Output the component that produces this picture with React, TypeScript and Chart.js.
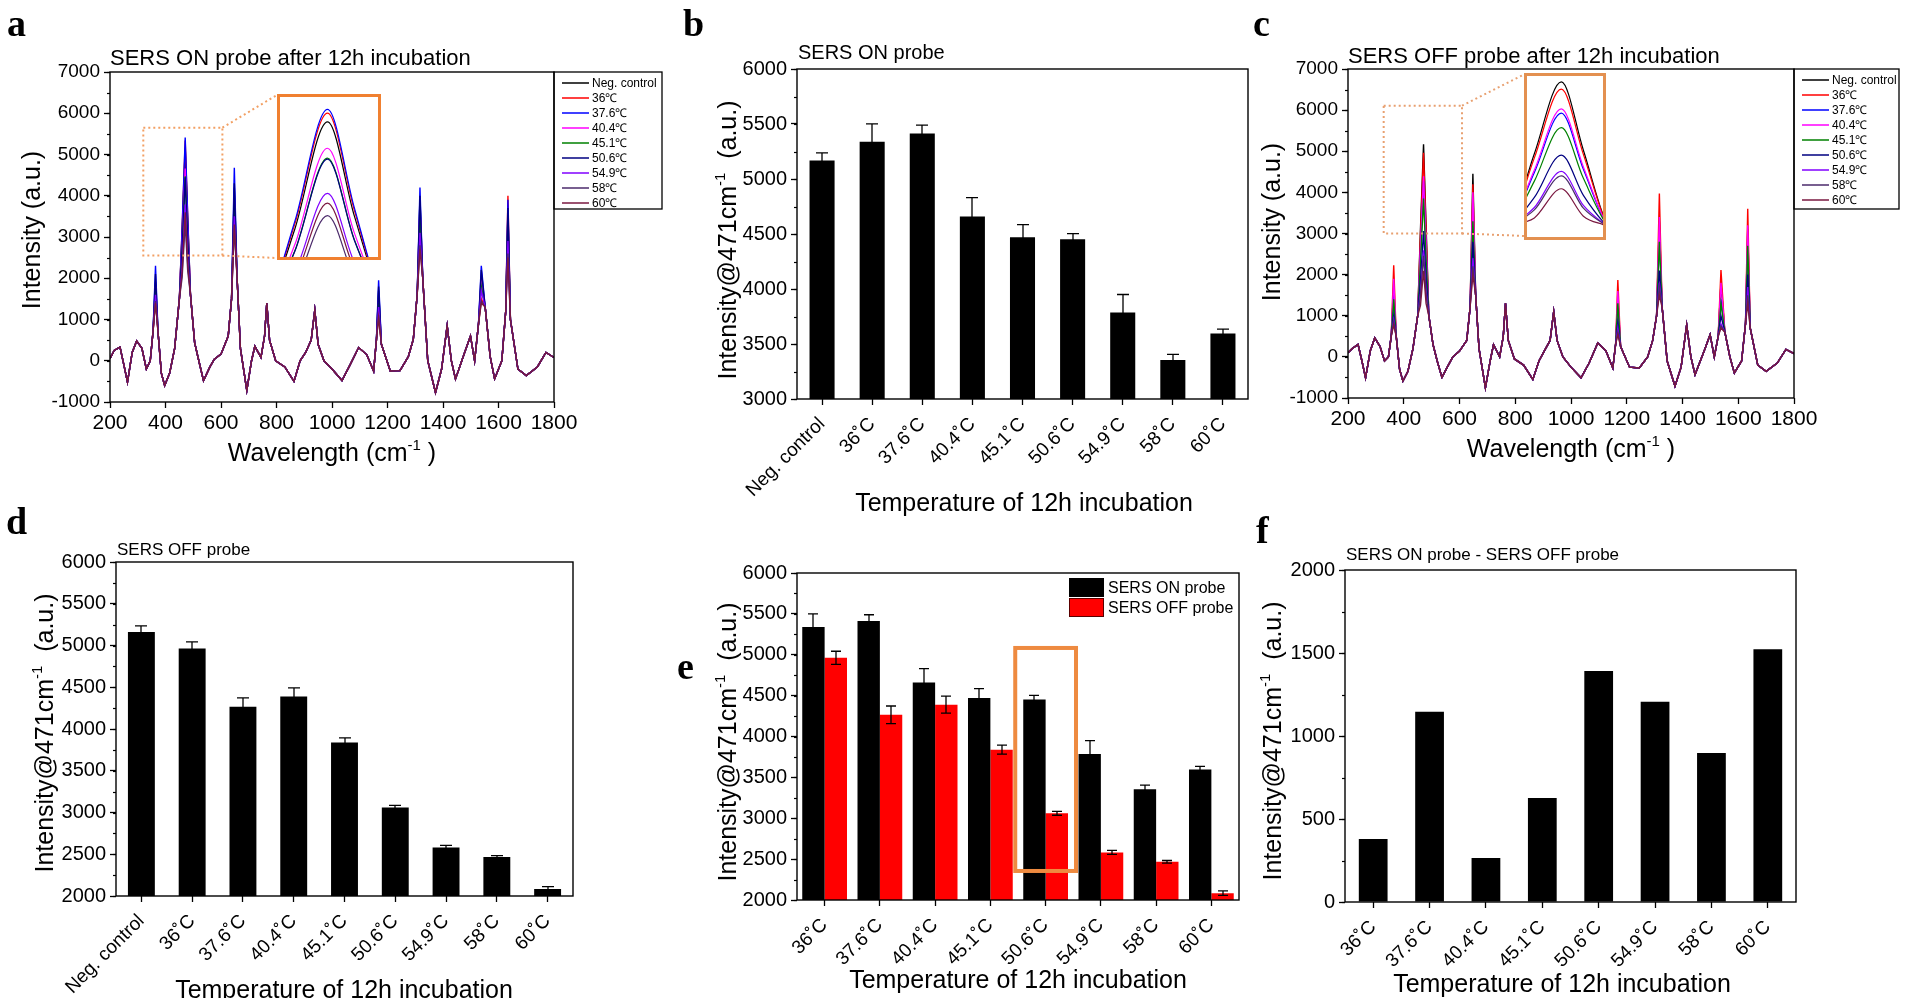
import React, { useEffect, useRef } from "react";
import { Chart, registerables } from "chart.js";

Chart.register(...registerables);

const SANS = "'Liberation Sans', Arial, Helvetica, sans-serif";
const SERIF = "'Liberation Serif', 'Times New Roman', Times, serif";

// ---------------- data ----------------
const seriesLabels = ["Neg. control", "36℃", "37.6℃", "40.4℃", "45.1℃", "50.6℃", "54.9℃", "58℃", "60℃"];
const seriesColors = ["#000000", "#ff0000", "#0000ff", "#ff00ff", "#008000", "#000080", "#8000ff", "#4b2a6b", "#7a1840"];

// shared wavenumber grid (cm-1) outside the main peaks
const specX = [200, 215, 236, 250, 263, 280, 296, 315, 331, 345,
  355, 373, 385, 397, 415, 433, 450, 490, 505, 520,
  537, 560, 576, 600, 626, 638, 658, 670, 693, 710,
  722, 744, 757, 765, 775, 797, 830, 863, 885, 905,
  925, 938, 950, 971, 1000, 1036, 1065, 1096, 1125, 1150,
  1160, 1178, 1210, 1245, 1275, 1293, 1307, 1327, 1345, 1373,
  1395, 1415, 1430, 1445, 1478, 1499, 1514, 1528, 1552, 1570,
  1586, 1612, 1626, 1643, 1670, 1700, 1740, 1771, 1800];

// SERS ON probe spectrum, common part
const onBase = [50, 250, 330, -100, -520, 200, 480, 300, -200, 0,
  700, 700, -300, -600, -300, 300, 1500, 1600, 440, 0,
  -480, -150, 40, 160, 600, 1500, 2000, 300, -720, 0,
  350, 80, 600, 1400, 500, 0, -150, -500, 0, 200,
  500, 1230, 400, 0, -200, -480, -100, 320, 150, -250,
  500, 400, -250, -240, 100, 520, 1600, 2000, 0, -770,
  -200, 850, 0, -440, 200, 600, 0, 900, 1300, 100,
  -440, 0, 1200, 1000, -200, -360, -150, 200, 80];

// SERS OFF probe spectrum, common part
const offBase = [100, 200, 300, -100, -510, 150, 460, 250, -100, 0,
  500, 500, -300, -590, -350, 200, 1000, 1000, 300, -100,
  -500, -200, 0, 140, 400, 1200, 1500, 200, -750, -100,
  300, 0, 500, 1300, 400, -50, -200, -550, -100, 150,
  400, 1100, 400, 0, -250, -510, -150, 340, 150, -270,
  300, 250, -250, -270, 0, 400, 1000, 1200, -100, -710,
  -250, 780, 0, -430, 150, 540, 0, 500, 600, 0,
  -390, -100, 800, 700, -200, -350, -150, 180, 80];

// peak positions where the series differ
const peakX = [364, 460, 471, 480, 648, 1168, 1317, 1538, 1634];

// per-series peak values (rows follow seriesLabels)
const onPeaks = [
  [1900, 3100, 5170, 3360, 4200, 1700, 3900, 2000, 3600],
  [1500, 3200, 5340, 3470, 3600, 1100, 3300, 1500, 4000],
  [2300, 3250, 5410, 3520, 4680, 1950, 4200, 2300, 3900],
  [1800, 2800, 4660, 3030, 3900, 1500, 3700, 1900, 3200],
  [1700, 2680, 4470, 2900, 3800, 1400, 3500, 1800, 3300],
  [2100, 2670, 4450, 2890, 4300, 1800, 4000, 2200, 3700],
  [1600, 2270, 3790, 2460, 3500, 1300, 3100, 1700, 2900],
  [1450, 2020, 3360, 2180, 3200, 1100, 2800, 1450, 2600],
  [1400, 2160, 3600, 2340, 3300, 1050, 2700, 1400, 2500],
];
const offPeaks = [
  [1700, 3100, 5170, 3200, 4450, 1400, 3300, 1800, 3100],
  [2230, 2980, 4960, 3080, 4200, 1870, 3970, 2110, 3600],
  [1500, 2560, 4270, 2650, 3500, 1100, 2900, 1400, 2600],
  [1900, 2630, 4390, 2720, 4000, 1600, 3400, 1800, 3200],
  [1400, 2310, 3850, 2390, 3300, 1300, 2800, 1300, 2700],
  [1000, 1840, 3060, 1900, 2800, 800, 2100, 1000, 2000],
  [900, 1550, 2590, 1610, 2400, 700, 1800, 800, 1700],
  [850, 1480, 2460, 1530, 2200, 600, 1700, 750, 1500],
  [780, 1250, 2090, 1300, 2000, 540, 1500, 700, 1300],
];

const barCats9 = ["Neg. control", "36˚C", "37.6˚C", "40.4˚C", "45.1˚C", "50.6˚C", "54.9˚C", "58˚C", "60˚C"];
const barCats8 = ["36˚C", "37.6˚C", "40.4˚C", "45.1˚C", "50.6˚C", "54.9˚C", "58˚C", "60˚C"];
const onMeans = [5168, 5338, 5413, 4660, 4470, 4452, 3787, 3354, 3596];
const onErr = [70, 163, 76, 170, 115, 51, 163, 52, 39];
const offMeans = [5163, 4963, 4265, 4389, 3839, 3061, 2582, 2467, 2084];
const offErr = [71, 80, 108, 104, 55, 24, 24, 16, 28];
const diffMeans = [380, 1146, 265, 627, 1391, 1206, 898, 1522];
const barSeriesLabels = ["SERS ON probe", "SERS OFF probe"];

// ---------------- helpers ----------------
function buildSeries(base: number[], peaks: number[]) {
  const pts = specX.map((x, i) => ({ x, y: base[i] }));
  peakX.forEach((x, j) => pts.push({ x, y: peaks[j] }));
  pts.sort((a, b) => a.x - b.x);
  return pts;
}

type Part = { t: string; sup?: boolean };
type TextSpec = { parts: Part[]; x: number; y: number; size: number; align?: "left" | "center"; family?: string; weight?: string; rotate?: boolean };
const T = (t: string, x: number, y: number, size: number, extra: any = {}): TextSpec => ({ parts: [{ t }], x, y, size, ...extra });
const yTitle471 = (x: number, y: number): TextSpec => ({
  parts: [{ t: "Intensity@471cm" }, { t: "-1", sup: true }, { t: "  (a.u.)" }], x, y, size: 25, rotate: true,
});

function drawRich(ctx: CanvasRenderingContext2D, s: TextSpec, ox: number, oy: number) {
  const fam = s.family || SANS;
  const w = s.weight || "normal";
  const sup = s.size * 0.6;
  const widths = s.parts.map((p) => {
    ctx.font = `${w} ${p.sup ? sup : s.size}px ${fam}`;
    return ctx.measureText(p.t).width;
  });
  const total = widths.reduce((a, b) => a + b, 0);
  ctx.save();
  ctx.fillStyle = "#000";
  ctx.textAlign = "left";
  ctx.textBaseline = "alphabetic";
  let cx: number, by: number;
  if (s.rotate) {
    ctx.translate(s.x - ox, s.y - oy);
    ctx.rotate(-Math.PI / 2);
    cx = -total / 2;
    by = s.size * 0.36;
  } else {
    cx = s.align === "center" ? s.x - ox - total / 2 : s.x - ox;
    by = s.y - oy;
  }
  s.parts.forEach((p, i) => {
    ctx.font = `${w} ${p.sup ? sup : s.size}px ${fam}`;
    ctx.fillText(p.t, cx, p.sup ? by - s.size * 0.45 : by);
    cx += widths[i];
  });
  ctx.restore();
}

type Deco = {
  ox: number; oy: number;
  texts: TextSpec[];
  minorY?: number;
  cap?: number;
  errors?: { ds: number; err: number[] }[];
  specLegend?: { x: number; y: number; w: number; h: number };
  barLegend?: { x: number; y: number; w: number; h: number; step: number; tx: number; items: { label: string; color: string; edge?: string }[] };
  highlight?: { index: number; n: number; half: number; y0: number; y1: number; color: string };
  zoom?: { x0: number; x1: number; y0: number; y1: number; toX: number; toTop: number; toBottom: number; color: string };
};

function decoPlugin(d: Deco) {
  return {
    id: "deco",
    afterDatasetsDraw(chart: any) {
      const ctx: CanvasRenderingContext2D = chart.ctx;
      const ys = chart.scales.y;
      if (d.errors) {
        ctx.save();
        ctx.strokeStyle = "#000";
        ctx.lineWidth = 1.3;
        const cap = d.cap || 5;
        for (const e of d.errors) {
          const meta = chart.getDatasetMeta(e.ds);
          const vals = chart.data.datasets[e.ds].data as number[];
          meta.data.forEach((bar: any, i: number) => {
            const v = vals[i], er = e.err[i];
            const x = Math.round(bar.x);
            const yt = ys.getPixelForValue(v + er), yb = ys.getPixelForValue(v - er);
            ctx.beginPath();
            ctx.moveTo(x, yt); ctx.lineTo(x, yb);
            ctx.moveTo(x - cap, yt); ctx.lineTo(x + cap, yt);
            ctx.moveTo(x - cap, yb); ctx.lineTo(x + cap, yb);
            ctx.stroke();
          });
        }
        ctx.restore();
      }
      if (d.highlight) {
        const h = d.highlight;
        const ca = chart.chartArea;
        const xs = chart.scales.x;
        const cw = (ca.right - ca.left) / h.n;
        const xc = xs.getPixelForValue(h.index);
        const yt = ys.getPixelForValue(h.y1), yb = ys.getPixelForValue(h.y0);
        ctx.save();
        ctx.strokeStyle = h.color;
        ctx.lineWidth = 4;
        ctx.strokeRect(xc - h.half * cw, yt, 2 * h.half * cw, yb - yt);
        ctx.restore();
      }
    },
    afterDraw(chart: any) {
      const ctx: CanvasRenderingContext2D = chart.ctx;
      const ca = chart.chartArea;
      const xs = chart.scales.x, ys = chart.scales.y;
      const ox = d.ox, oy = d.oy;
      ctx.save();
      if (d.zoom) {
        const z = d.zoom;
        const x0 = xs.getPixelForValue(z.x0), x1 = xs.getPixelForValue(z.x1);
        const y0 = ys.getPixelForValue(z.y0), y1 = ys.getPixelForValue(z.y1);
        ctx.save();
        ctx.strokeStyle = z.color;
        ctx.lineWidth = 2;
        ctx.setLineDash([2, 3]);
        ctx.strokeRect(x0, y1, x1 - x0, y0 - y1);
        ctx.beginPath();
        ctx.moveTo(x1, y1); ctx.lineTo(z.toX - ox, z.toTop - oy);
        ctx.moveTo(x1, y0); ctx.lineTo(z.toX - ox, z.toBottom - oy);
        ctx.stroke();
        ctx.restore();
      }
      // frame
      ctx.strokeStyle = "#000";
      ctx.lineWidth = 1.4;
      ctx.strokeRect(ca.left, ca.top, ca.right - ca.left, ca.bottom - ca.top);
      // minor ticks
      if (d.minorY) {
        ctx.lineWidth = 1.2;
        for (let v = ys.min; v <= ys.max + 1e-6; v += d.minorY) {
          const p = Math.round(ys.getPixelForValue(v)) + 0.5;
          ctx.beginPath(); ctx.moveTo(ca.left - 3, p); ctx.lineTo(ca.left, p); ctx.stroke();
        }
      }
      if (d.specLegend) {
        const L = d.specLegend;
        const bx = L.x - ox, by = L.y - oy;
        ctx.strokeStyle = "#000";
        ctx.lineWidth = 1.3;
        ctx.strokeRect(bx, by, L.w, L.h);
        ctx.font = `12px ${SANS}`;
        ctx.textBaseline = "middle";
        ctx.textAlign = "left";
        ctx.fillStyle = "#000";
        seriesLabels.forEach((lab, i) => {
          const yy = by + 11 + i * 15;
          ctx.strokeStyle = seriesColors[i];
          ctx.lineWidth = 1.5;
          ctx.beginPath(); ctx.moveTo(bx + 8, yy); ctx.lineTo(bx + 35, yy); ctx.stroke();
          ctx.fillText(lab, bx + 38, yy + 1);
        });
      }
      if (d.barLegend) {
        const B = d.barLegend;
        B.items.forEach((it, i) => {
          const yy = B.y - oy + i * B.step;
          ctx.fillStyle = it.color;
          ctx.fillRect(B.x - ox, yy, B.w, B.h);
          if (it.edge) {
            ctx.strokeStyle = it.edge;
            ctx.lineWidth = 1;
            ctx.strokeRect(B.x - ox + 0.5, yy + 0.5, B.w - 1, B.h - 1);
          }
          ctx.fillStyle = "#000";
          ctx.font = `16px ${SANS}`;
          ctx.textBaseline = "middle";
          ctx.textAlign = "left";
          ctx.fillText(it.label, B.tx - ox, yy + B.h / 2 + 1);
        });
      }
      ctx.restore();
      d.texts.forEach((s) => drawRich(ctx, s, ox, oy));
    },
  };
}

type Box = { left: number; top: number; width: number; height: number; area: { l: number; t: number; r: number; b: number } };

function gridOpts(extra: any = {}) {
  return { drawOnChartArea: false, drawTicks: true, tickLength: 6, tickWidth: 1.3, tickColor: "#000", color: "#000", ...extra };
}

function yAxis(box: Box, min: number, max: number, step: number, size: number) {
  const w = box.area.l - box.left;
  return {
    type: "linear", min, max,
    afterFit: (s: any) => { s.width = w; },
    ticks: { stepSize: step, callback: (v: any) => String(v), font: { family: SANS, size }, color: "#000", padding: 4 },
    grid: gridOpts(),
    border: { display: false },
  };
}

function baseOptions(box: Box) {
  return {
    responsive: false,
    animation: false,
    devicePixelRatio: 1,
    events: [],
    layout: { padding: { top: box.area.t - box.top, right: box.left + box.width - box.area.r, left: 0, bottom: 0 } },
    plugins: { legend: { display: false }, tooltip: { enabled: false }, title: { display: false } },
  };
}

function spectrumConfig(box: Box, base: number[], peaks: number[][], deco: Deco) {
  const h = box.top + box.height - box.area.b;
  return {
    type: "line",
    data: {
      datasets: seriesLabels.map((label, i) => ({
        label, data: buildSeries(base, peaks[i]), borderColor: seriesColors[i], borderWidth: 1.4,
        pointRadius: 0, tension: 0, order: 8 - i,
      })),
    },
    options: {
      ...baseOptions(box),
      scales: {
        x: {
          type: "linear", min: 200, max: 1800,
          afterFit: (s: any) => { s.height = h; },
          ticks: { stepSize: 200, callback: (v: any) => String(v), font: { family: SANS, size: 21 }, color: "#000", padding: 3, maxRotation: 0, autoSkip: false },
          grid: gridOpts(),
          border: { display: false },
        },
        y: yAxis(box, -1000, 7000, 1000, 19),
      },
    },
    plugins: [decoPlugin(deco)],
  };
}

function insetConfig(base: number[], peaks: number[][], xmin: number, xmax: number, ymin: number, ymax: number) {
  return {
    type: "line",
    data: {
      datasets: seriesLabels.map((label, i) => ({
        label, data: buildSeries(base, peaks[i]), borderColor: seriesColors[i], borderWidth: 1.2,
        pointRadius: 0, cubicInterpolationMode: "monotone", order: 8 - i,
      })),
    },
    options: {
      responsive: false, animation: false, devicePixelRatio: 1, events: [],
      layout: { padding: 0 },
      plugins: { legend: { display: false }, tooltip: { enabled: false } },
      scales: {
        x: { type: "linear", display: false, min: xmin, max: xmax },
        y: { type: "linear", display: false, min: ymin, max: ymax },
      },
    },
  };
}

function barConfig(box: Box, labels: string[], datasets: any[], ymin: number, ymax: number, deco: Deco) {
  const h = box.top + box.height - box.area.b;
  return {
    type: "bar",
    data: { labels, datasets },
    options: {
      ...baseOptions(box),
      scales: {
        x: {
          type: "category", offset: true,
          afterFit: (s: any) => { s.height = h; },
          ticks: { font: { family: SANS, size: 19 }, color: "#000", padding: 8, maxRotation: 45, minRotation: 45, autoSkip: false },
          grid: gridOpts({ offset: false }),
          border: { display: false },
        },
        y: yAxis(box, ymin, ymax, 500, 20),
      },
    },
    plugins: [decoPlugin(deco)],
  };
}

// ---------------- layout ----------------
const boxA: Box = { left: 0, top: 0, width: 668, height: 490, area: { l: 110, t: 72, r: 554, b: 402 } };
const boxB: Box = { left: 668, top: 0, width: 582, height: 525, area: { l: 797, t: 69, r: 1248, b: 399 } };
const boxC: Box = { left: 1250, top: 0, width: 655, height: 490, area: { l: 1348, t: 69, r: 1794, b: 398 } };
const boxD: Box = { left: 0, top: 490, width: 640, height: 508, area: { l: 116, t: 562, r: 573, b: 896 } };
const boxE: Box = { left: 640, top: 540, width: 610, height: 458, area: { l: 797, t: 573, r: 1239, b: 900 } };
const boxF: Box = { left: 1250, top: 500, width: 655, height: 498, area: { l: 1345, t: 570, r: 1796, b: 902 } };

const insetA = { left: 277, top: 94, width: 104, height: 166, border: 3, color: "#f08030" };
const insetC = { left: 1524, top: 73, width: 82, height: 167, border: 3, color: "#e39050" };

function ChartCanvas({ box, make }: { box: { left: number; top: number; width: number; height: number }; make: () => any }) {
  const ref = useRef<HTMLCanvasElement | null>(null);
  useEffect(() => {
    const c = ref.current;
    if (!c) return;
    const chart = new Chart(c, make());
    return () => chart.destroy();
  }, []);
  return (
    <canvas ref={ref} width={box.width} height={box.height}
      style={{ position: "absolute", left: box.left, top: box.top, width: box.width, height: box.height }} />
  );
}

function Inset({ ins, make }: { ins: any; make: () => any }) {
  const inner = { left: ins.left + ins.border, top: ins.top + ins.border, width: ins.width - 2 * ins.border, height: ins.height - 2 * ins.border };
  return (
    <>
      <div style={{ position: "absolute", left: inner.left, top: inner.top, width: inner.width, height: inner.height, background: "#fff" }} />
      <ChartCanvas box={inner} make={make} />
      <div style={{ position: "absolute", left: ins.left, top: ins.top, width: ins.width - 2 * ins.border, height: ins.height - 2 * ins.border, border: `${ins.border}px solid ${ins.color}` }} />
    </>
  );
}

export default function App() {
  const makeA = () => spectrumConfig(boxA, onBase, onPeaks, {
    ox: boxA.left, oy: boxA.top, minorY: 500,
    texts: [
      T("a", 7, 36, 38, { family: SERIF, weight: "bold" }),
      T("SERS ON probe after 12h incubation", 110, 65, 22),
      T("Intensity (a.u.)", 31, 230, 25, { rotate: true }),
      { parts: [{ t: "Wavelength (cm" }, { t: "-1", sup: true }, { t: " )" }], x: 332, y: 461, size: 25, align: "center" },
    ],
    specLegend: { x: 554, y: 72, w: 108, h: 137 },
    zoom: { x0: 320, x1: 605, y0: 2550, y1: 5650, toX: 277, toTop: 95, toBottom: 258, color: "#f2a064" },
  });
  const makeC = () => spectrumConfig(boxC, offBase, offPeaks, {
    ox: boxC.left, oy: boxC.top, minorY: 500,
    texts: [
      T("c", 1253, 36, 38, { family: SERIF, weight: "bold" }),
      T("SERS OFF probe after 12h incubation", 1348, 63, 22),
      T("Intensity (a.u.)", 1271, 222, 25, { rotate: true }),
      { parts: [{ t: "Wavelength (cm" }, { t: "-1", sup: true }, { t: " )" }], x: 1571, y: 457, size: 25, align: "center" },
    ],
    specLegend: { x: 1794, y: 69, w: 105, h: 140 },
    zoom: { x0: 328, x1: 609, y0: 3000, y1: 6108, toX: 1525, toTop: 74, toBottom: 236, color: "#e8a070" },
  });
  const makeB = () => barConfig(boxB, barCats9, [
    { data: onMeans, backgroundColor: "#000", barPercentage: 0.5, categoryPercentage: 1 },
  ], 3000, 6000, {
    ox: boxB.left, oy: boxB.top, minorY: 250, cap: 6,
    errors: [{ ds: 0, err: onErr }],
    texts: [
      T("b", 683, 36, 38, { family: SERIF, weight: "bold" }),
      T("SERS ON probe", 798, 59, 20),
      yTitle471(727, 240),
      T("Temperature of 12h incubation", 1024, 511, 25, { align: "center" }),
    ],
  });
  const makeD = () => barConfig(boxD, barCats9, [
    { data: offMeans, backgroundColor: "#000", barPercentage: 0.53, categoryPercentage: 1 },
  ], 2000, 6000, {
    ox: boxD.left, oy: boxD.top, minorY: 250, cap: 6,
    errors: [{ ds: 0, err: offErr }],
    texts: [
      T("d", 6, 534, 38, { family: SERIF, weight: "bold" }),
      T("SERS OFF probe", 117, 555, 17),
      yTitle471(44, 733),
      T("Temperature of 12h incubation", 344, 998, 25, { align: "center" }),
    ],
  });
  const makeE = () => barConfig(boxE, barCats8, [
    { label: barSeriesLabels[0], data: onMeans.slice(1), backgroundColor: "#000", barPercentage: 1, categoryPercentage: 0.81 },
    { label: barSeriesLabels[1], data: offMeans.slice(1), backgroundColor: "#ff0000", barPercentage: 1, categoryPercentage: 0.81 },
  ], 2000, 6000, {
    ox: boxE.left, oy: boxE.top, minorY: 250, cap: 5,
    errors: [{ ds: 0, err: onErr.slice(1) }, { ds: 1, err: offErr.slice(1) }],
    highlight: { index: 4, n: 8, half: 0.55, y0: 2355, y1: 5083, color: "#ee8a40" },
    barLegend: {
      x: 1069, y: 578, w: 35, h: 19, step: 20, tx: 1108,
      items: [
        { label: barSeriesLabels[0], color: "#000" },
        { label: barSeriesLabels[1], color: "#ff0000", edge: "#5a0000" },
      ],
    },
    texts: [
      T("e", 677, 679, 38, { family: SERIF, weight: "bold" }),
      yTitle471(727, 742),
      T("Temperature of 12h incubation", 1018, 988, 25, { align: "center" }),
    ],
  });
  const makeF = () => barConfig(boxF, barCats8, [
    { data: diffMeans, backgroundColor: "#000", barPercentage: 0.51, categoryPercentage: 1 },
  ], 0, 2000, {
    ox: boxF.left, oy: boxF.top, minorY: 250,
    texts: [
      T("f", 1256, 543, 38, { family: SERIF, weight: "bold" }),
      T("SERS ON probe - SERS OFF probe", 1346, 560, 17),
      yTitle471(1272, 741),
      T("Temperature of 12h incubation", 1562, 992, 25, { align: "center" }),
    ],
  });

  return (
    <div style={{ position: "absolute", left: 0, top: 0, width: 1905, height: 998, background: "#fff", overflow: "hidden" }}>
      <ChartCanvas box={boxA} make={makeA} />
      <ChartCanvas box={boxB} make={makeB} />
      <ChartCanvas box={boxC} make={makeC} />
      <ChartCanvas box={boxD} make={makeD} />
      <ChartCanvas box={boxE} make={makeE} />
      <ChartCanvas box={boxF} make={makeF} />
      <Inset ins={insetA} make={() => insetConfig(onBase, onPeaks, 455, 488, 2560, 5650)} />
      <Inset ins={insetC} make={() => insetConfig(offBase, offPeaks, 457, 488, 700, 5340)} />
    </div>
  );
}
